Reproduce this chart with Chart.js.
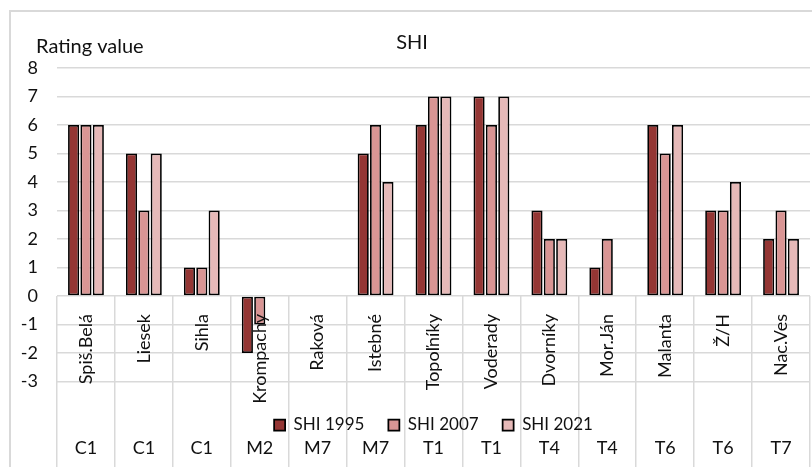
<!DOCTYPE html>
<html>
<head>
<meta charset="utf-8">
<title>SHI</title>
<script src="https://cdn.jsdelivr.net/npm/chart.js@4.4.1/dist/chart.umd.min.js"></script>
<style>
  html, body { margin: 0; padding: 0; background: #fff; overflow: hidden; }
  #wrap { position: relative; width: 812px; height: 467px; overflow: hidden; }
  #frame { position: absolute; left: 9px; top: 10px; width: 900px; height: 600px; border: 2px solid #d9d9d9; }
  canvas { position: absolute; left: 0; top: 0; }
</style>
</head>
<body>
<div id="wrap">
  <div id="frame"></div>
  <canvas id="shiChart" width="812" height="467"></canvas>
</div>
<script>
// sites (rotated labels) and their group codes (second row)
var sites = ["Spiš.Belá", "Liesek", "Sihla", "Krompachy", "Raková", "Istebné", "Topoľníky",
  "Voderady", "Dvorníky", "Mor.Ján", "Malanta", "Ž/H", "Nac.Ves"];
var groups = ["C1", "C1", "C1", "M2", "M7", "M7", "T1", "T1", "T4", "T4", "T6", "T6", "T7"];

var shi1995 = [6, 5, 1, -2, 0, 5, 6, 7, 3, 1, 6, 3, 2];
var shi2007 = [6, 3, 1, -1, 0, 6, 7, 6, 2, 2, 5, 3, 3];
var shi2021 = [6, 5, 3, 0, 0, 4, 7, 7, 2, 0, 6, 4, 2];

var yMin = -3;
var yMax = 8;

var FONT = "Lato";
var TEXT = "#111111";
var GRID = "#d9d9d9";

// horizontal "Rating value" caption above the value axis
var axisCaption = {
  id: 'axisCaption',
  afterDraw: function (chart) {
    var ctx = chart.ctx;
    var area = chart.chartArea;
    ctx.save();
    ctx.font = "20px " + FONT;
    ctx.fillStyle = TEXT;
    ctx.textAlign = 'left';
    ctx.textBaseline = 'middle';
    ctx.fillText("Rating value", area.left - 21, area.top - 21);
    ctx.restore();
  }
};

// category axes sit inside the plot, they should not shrink it
function noSidePadding(scale) {
  scale.paddingLeft = 0;
  scale.paddingRight = 0;
}

function series(label, data, color) {
  return {
    label: label,
    data: data,
    xAxisID: 'x',
    yAxisID: 'y',
    backgroundColor: color,
    borderColor: "#000000",
    borderWidth: 1.75,
    borderSkipped: false,
    categoryPercentage: 0.64,
    barPercentage: 0.9
  };
}

var ctx = document.getElementById("shiChart").getContext("2d");
var shiChart = new Chart(ctx, {
  type: 'bar',
  data: {
    labels: sites,
    datasets: [
      series("SHI 1995", shi1995, "#943634"),
      series("SHI 2007", shi2007, "#d99594"),
      series("SHI 2021", shi2021, "#e6b9b8")
    ]
  },
  plugins: [axisCaption],
  options: {
    responsive: false,
    animation: false,
    layout: {
      padding: { left: 14, right: 2, top: 0, bottom: 23.5 }
    },
    plugins: {
      tooltip: { enabled: false },
      title: {
        display: true,
        text: "SHI",
        color: TEXT,
        font: { family: FONT, size: 20, weight: 'normal' },
        padding: { top: 30.5, bottom: 13.5 }
      },
      legend: {
        position: 'bottom',
        fullSize: false,
        title: {
          display: true,
          text: "",
          font: { size: 1 },
          padding: { top: 9.8, bottom: 0 }
        },
        labels: {
          boxWidth: 11,
          boxHeight: 11,
          padding: 24,
          color: TEXT,
          font: { family: FONT, size: 17 }
        }
      }
    },
    scales: {
      x: {
        type: 'category',
        position: { y: 0 },
        offset: true,
        border: { display: false },
        grid: {
          display: true,
          offset: true,
          drawOnChartArea: false,
          drawTicks: true,
          tickLength: 175,
          color: GRID,
          lineWidth: 1.5
        },
        ticks: {
          z: 1,
          autoSkip: false,
          minRotation: 90,
          maxRotation: 90,
          padding: -157,
          color: TEXT,
          font: { family: FONT, size: 18 }
        },
        afterFit: noSidePadding
      },
      x2: {
        type: 'category',
        labels: groups,
        position: { y: yMin },
        offset: true,
        border: { display: false },
        grid: { display: false, drawTicks: false },
        ticks: {
          autoSkip: false,
          maxRotation: 0,
          padding: 56,
          color: TEXT,
          font: { family: FONT, size: 18 }
        },
        afterFit: noSidePadding
      },
      y: {
        min: yMin,
        max: yMax,
        border: { display: false },
        grid: { color: GRID, lineWidth: 1.5, drawTicks: false },
        ticks: {
          stepSize: 1,
          padding: 19,
          color: TEXT,
          font: { family: FONT, size: 18 }
        },
        afterFit: function (scale) {
          scale.width = 43;
        }
      }
    }
  }
});
</script>
</body>
</html>
